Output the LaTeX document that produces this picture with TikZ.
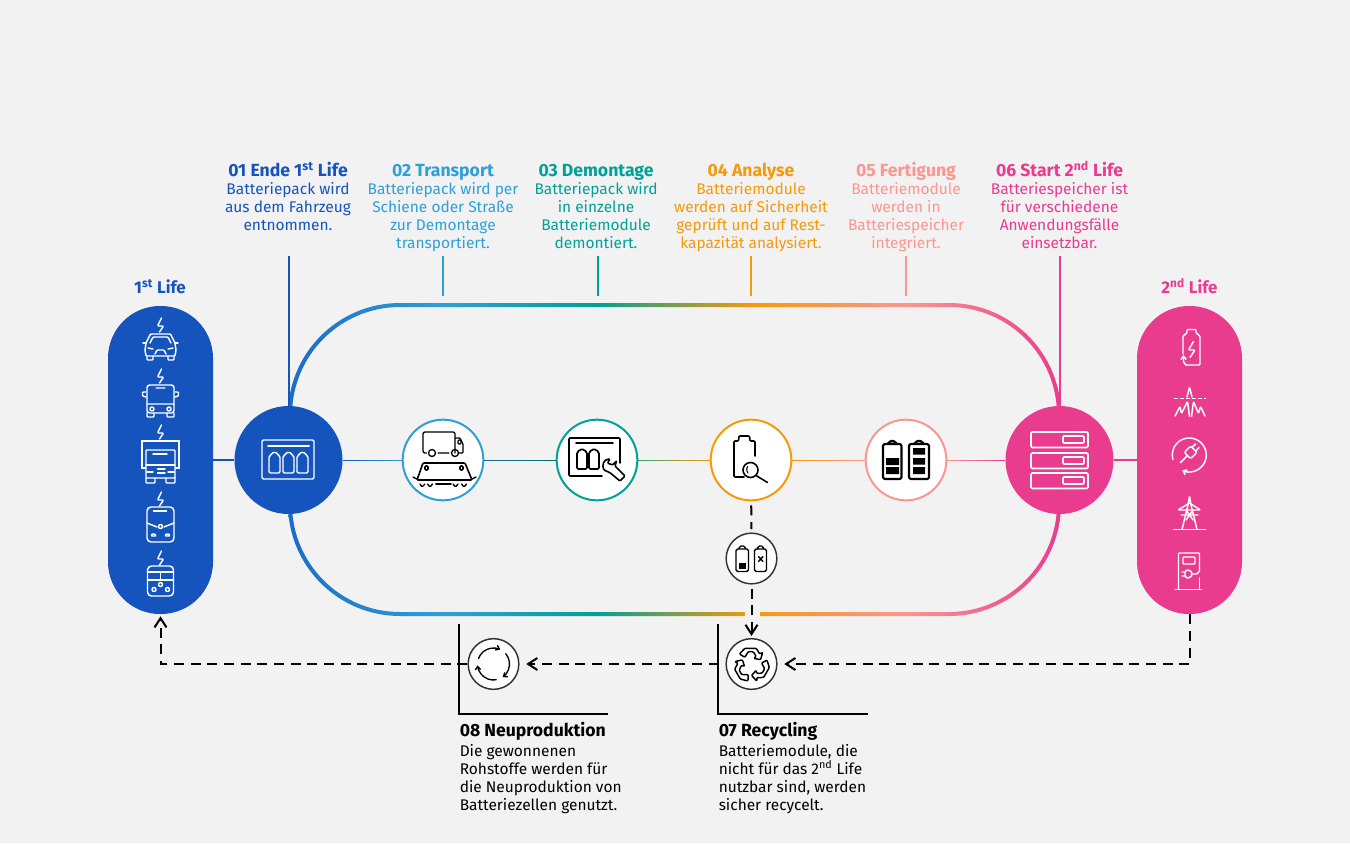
\documentclass[tikz,border=0pt]{standalone}
\usepackage{fontspec}
\setmainfont{Fira Sans}
\usetikzlibrary{arrows.meta,calc}

\definecolor{pagebg}{HTML}{F2F2F2}
\definecolor{lifeblue}{HTML}{1554BD}
\definecolor{skyblue}{HTML}{2F9FD8}
\definecolor{tealgreen}{HTML}{00A196}
\definecolor{amber}{HTML}{F59A0A}
\definecolor{salmon}{HTML}{FB9690}
\definecolor{lifepink}{HTML}{E93C8F}
\definecolor{loopblue}{HTML}{1A6CC8}

% colour run of the big loop
\pgfdeclarehorizontalshading{loopgrad}{100bp}{
  color(0bp)=(loopblue); color(25bp)=(loopblue); color(35bp)=(skyblue);
  color(45bp)=(tealgreen); color(55bp)=(amber); color(65bp)=(salmon);
  color(75bp)=(lifepink); color(100bp)=(lifepink)}

\tikzset{
  pillbox/.style={rectangle,rounded corners=39pt,minimum width=78.75pt,minimum height=231pt,inner sep=0pt},
  hubdot/.style={circle,minimum size=81pt,inner sep=0pt},
  stepdot/.style={circle,draw=#1,fill=white,line width=1.5pt,minimum size=60.5pt,inner sep=0pt},
  exitdot/.style={circle,draw=black!80,fill=white,line width=1.1pt,minimum size=38pt,inner sep=0pt},
  toplabel/.style={anchor=north,align=center,inner sep=0pt,text=#1,font=\fontsize{11.6}{13.5}\selectfont},
  lowlabel/.style={anchor=north west,align=left,inner sep=0pt,font=\fontsize{11.6}{13.5}\selectfont},
  lifelabel/.style={inner sep=0pt,text=#1,font=\fontsize{12.7}{13.5}\selectfont\bfseries},
  dashlink/.style={line width=1.5pt,dash pattern=on 7.5pt off 5pt},
  tiplink/.style={dashlink,-{Straight Barb[length=7pt,width=9pt]}},
  iconw/.style={draw=white,line width=1.1pt,rounded corners=.7pt,line cap=round,line join=round},
  iconk/.style={draw=black,line width=1pt,rounded corners=.7pt,line cap=round,line join=round},
}

% heading line of a label
\newcommand{\steptitle}[1]{\rule{0pt}{12.5pt}{\fontsize{13.2}{13.5}\selectfont\bfseries #1}}

% thin connector whose colour runs from one step to the next
\newcommand{\gradlink}[4]{
  \foreach \i [evaluate=\i as \k using \i/10,evaluate=\i as \j using (\i+1)/10,evaluate=\i as \pct using int(10*\i+5)] in {0,...,9}
    \draw[line width=.75pt,#4!\pct!#3] ($(#1.east)!\k!(#2.west)$) -- ($(#1.east)!\j!(#2.west)$);
}

\begin{document}
\begin{tikzpicture}[x=.75pt,y=-.75pt]
  \fill[pagebg] (0,0) rectangle (1350,843);

  % Loop
  \shade[shading=loopgrad,even odd rule]
    [rounded corners=84pt] (288,303) rectangle (1061,616)
    [rounded corners=81pt] (292,307) rectangle (1057,612);
  \fill[pagebg] (745,610) rectangle (760,618);

  % Pills
  \node[pillbox,fill=lifeblue] (lifeA) at (160.5,460) {};
  \node[pillbox,fill=lifepink] (lifeB) at (1189.5,460) {};
  \node[lifelabel=lifeblue] (lifeAtxt) at (160,286.5) {1\textsuperscript{st} Life};
  \node[lifelabel=lifepink] (lifeBtxt) at (1189.5,286.5) {2\textsuperscript{nd} Life};

  % Step circles
  \node[hubdot,fill=lifeblue] (hubA) at (288.5,460) {};
  \node[stepdot=skyblue] (stepB) at (443,460) {};
  \node[stepdot=tealgreen] (stepC) at (597,460) {};
  \node[stepdot=amber] (stepD) at (751,460) {};
  \node[stepdot=salmon] (stepE) at (906,460) {};
  \node[hubdot,fill=lifepink] (hubF) at (1059.5,460) {};
  \node[exitdot] (cutoff) at (751.5,558.5) {};
  \node[exitdot] (recycle) at (751.5,664) {};
  \node[exitdot] (newmade) at (493.5,664) {};

  % Links
  \draw[line width=1.5pt,lifeblue] (lifeA) -- (hubA);
  \draw[line width=1.5pt,lifepink] (hubF) -- (lifeB);
  \gradlink{hubA}{stepB}{lifeblue}{skyblue}
  \gradlink{stepB}{stepC}{skyblue!70!black}{tealgreen}
  \gradlink{stepC}{stepD}{tealgreen!80!amber}{amber}
  \gradlink{stepD}{stepE}{amber}{salmon}
  \gradlink{stepE}{hubF}{salmon}{lifepink}

  % Ticks
  \coordinate (tickA) at (288.5,256);
  \coordinate (tickB) at (443,256);
  \coordinate (tickBb) at (443,296);
  \coordinate (tickC) at (597.5,256);
  \coordinate (tickCb) at (597.5,296);
  \coordinate (tickD) at (751,256);
  \coordinate (tickDb) at (751,296);
  \coordinate (tickE) at (906,256);
  \coordinate (tickEb) at (906,296);
  \coordinate (tickF) at (1059.5,256);
  \draw[line width=1.5pt,lifeblue] (tickA) -- (hubA);
  \draw[line width=1.5pt,skyblue] (tickB) -- (tickBb);
  \draw[line width=1.5pt,tealgreen] (tickC) -- (tickCb);
  \draw[line width=1.5pt,amber] (tickD) -- (tickDb);
  \draw[line width=1.5pt,salmon] (tickE) -- (tickEb);
  \draw[line width=1.5pt,lifepink] (tickF) -- (hubF);

  % Top labels
  \node[toplabel=lifeblue] (txtA) at (288,159.5) {\steptitle{01 Ende 1\textsuperscript{st} Life}\\Batteriepack wird\\aus dem Fahrzeug\\entnommen.};
  \node[toplabel=skyblue] (txtB) at (443,159.5) {\steptitle{02 Transport}\\Batteriepack wird per\\Schiene oder Straße\\zur Demontage\\transportiert.};
  \node[toplabel=tealgreen] (txtC) at (596,159.5) {\steptitle{03 Demontage}\\Batteriepack wird\\in einzelne\\Batteriemodule\\demontiert.};
  \node[toplabel=amber] (txtD) at (751,159.5) {\steptitle{04 Analyse}\\Batteriemodule\\werden auf Sicherheit\\geprüft und auf Rest-\\kapazität analysiert.};
  \node[toplabel=salmon] (txtE) at (906,159.5) {\steptitle{05 Fertigung}\\Batteriemodule\\werden in\\Batteriespeicher\\integriert.};
  \node[toplabel=lifepink] (txtF) at (1059.5,159.5) {\steptitle{06 Start 2\textsuperscript{nd} Life}\\Batteriespeicher ist\\für verschiedene\\Anwendungsfälle\\einsetzbar.};

  % Low labels
  \coordinate (cornerG) at (459,713.5);
  \coordinate (cornerGa) at (459,624);
  \coordinate (cornerGb) at (608,713.5);
  \coordinate (cornerH) at (718,713.5);
  \coordinate (cornerHa) at (718,624);
  \coordinate (cornerHb) at (868,713.5);
  \draw[line width=1.5pt] (cornerGa) -- (cornerG) -- (cornerGb);
  \draw[line width=1.5pt] (cornerHa) -- (cornerH) -- (cornerHb);
  \node[lowlabel] (txtG) at (459.5,719.5) {\steptitle{08 Neuproduktion}\\[1.5pt]Die gewonnenen\\Rohstoffe werden für\\die Neuproduktion von\\Batteriezellen genutzt.};
  \node[lowlabel] (txtH) at (718.5,719.5) {\steptitle{07 Recycling}\\[1.5pt]Batteriemodule, die\\nicht für das 2\textsuperscript{nd} Life\\nutzbar sind, werden\\sicher recycelt.};

  % Dashed return path
  \draw[dashlink,shorten <=3pt,shorten >=2.5pt] (stepD) -- (cutoff);
  \draw[tiplink,shorten <=3pt,shorten >=1.5pt] (cutoff) -- (recycle);
  \draw[tiplink,shorten >=5pt] (lifeB.south) |- (recycle.east);
  \draw[tiplink,shorten <=5pt,shorten >=5pt] (recycle.west) -- (newmade.east);
  \draw[tiplink,shorten >=1.5pt] (newmade.west) -| (lifeA.south);

  % 1st life icons
  \foreach \y in {325,376,432,499,558}
    \draw[iconw] (161.5,\y-7) -- (157.5,\y+1) -- (163.5,\y+1) -- (159.5,\y+7);
  % car
  \draw[iconw] (146,343) -- (150.5,334) -- (170.5,334) -- (175,343) -- (176,350) -- (175,356) -- (146,356) -- (145,350) -- cycle;
  \draw[iconw] (150,343) -- (153,337) -- (168,337) -- (171,343);
  \draw[iconw] (146,343) -- (143,343) (175,343) -- (178,343);
  \draw[iconw] (147,356) -- (147,360) -- (153,360) -- (153,356) (168,356) -- (168,360) -- (174,360) -- (174,356);
  \draw[iconw] (148,348) -- (153,349) (173,348) -- (168,349) (155,354) -- (157,350) -- (164,350) -- (166,354);
  % bus
  \draw[iconw,rounded corners=2pt] (147,385) rectangle (174,413);
  \draw[iconw] (156,388) -- (165,388) (147,404) -- (174,404) (147,413) -- (147,417) -- (154,417) -- (154,413) (167,413) -- (167,417) -- (174,417) -- (174,413);
  \draw[iconw] (146,392) -- (142.5,392) -- (142.5,396) -- (146,397) (175,392) -- (178.5,392) -- (178.5,396) -- (175,397);
  \draw[iconw] (152,409) circle (2) (169,409) circle (2);
  % truck
  \draw[line width=1pt,white] (142,441) rectangle (179,468);
  \draw[iconw,fill=lifeblue] (146,450) -- (175,450) -- (175,478) -- (146,478) -- cycle;
  \draw[iconw] (153,454) -- (167,454) (146,465) -- (175,465) (147,472) -- (153,472) (168,472) -- (174,472) (157.5,469) -- (165,469) (157.5,473) -- (165,473);
  \draw[iconw] (146,478) -- (146,483) -- (155,483) -- (155,478) (166,478) -- (166,483) -- (175,483) -- (175,478);
  % train
  \draw[iconw,rounded corners=3pt] (147,507) rectangle (174,542);
  \draw[white,line width=1.5pt] (153,510.5) -- (167,510.5);
  \draw[iconw] (147,523) -- (157,527) (174,523) -- (164,527);
  \draw[iconw] (160.5,526.5) circle (2);
  \draw[iconw] (151,536) -- (152,534) -- (155,534) -- (156,536) -- cycle (165,536) -- (166,534) -- (169,534) -- (170,536) -- cycle;
  % tram
  \draw[iconw,rounded corners=3pt] (147.5,566) rectangle (173.5,596);
  \draw[iconw] (147.5,572) -- (173.5,572) (147.5,580) -- (173.5,580) (160.5,572) -- (160.5,580);
  \draw[iconw] (154,589.5) circle (2) (167.5,589.5) circle (2) (160.5,584.5) circle (2);

  % Battery pack
  \draw[iconw,line width=1.1pt,rounded corners=1pt] (262,440) rectangle (314,479);
  \draw[iconw,line width=1.5pt] (268,446) -- (309,446);
  \foreach \x in {269,283,297}
    \draw[iconw,line width=1.1pt,rounded corners=1pt] (\x,473) -- (\x,456) -- (\x+2.5,455) -- (\x+3,452.5) -- (\x+8,452.5) -- (\x+8.5,455) -- (\x+11,456) -- (\x+11,473) -- cycle;

  % Truck and train
  \draw[iconk,rounded corners=1.5pt] (426.5,453) -- (423,453) -- (423,432) -- (455,432) -- (455,453);
  \draw[iconk] (455,438) -- (460,438) -- (463,444) -- (463,453) -- (459,453);
  \draw[iconk] (458,440) rectangle (461,444);
  \draw[iconk] (432,453) circle (3.5) (455,453) circle (3.5) (438,453) -- (449,453);
  \draw[iconk,line width=1.2pt] (417,480) -- (423,463) -- (465,463) -- (472,480) -- cycle;
  \draw[iconk,line width=1.2pt] (425,466) rectangle (428,470) (460,466) rectangle (463,470);
  \draw[iconk] (413,477) -- (417,479) (476,477) -- (472,479);
  \draw[iconk] (420,484) -- (422,487) -- (425,484) (427.5,484) -- (430,487) -- (432.5,484) (453,484) -- (455.5,487) -- (458,484) (461.5,484) -- (464,487) -- (466.5,484);
  \draw[iconk,line width=1.3pt] (436,484) -- (451,484);

  % Modules and wrench
  \draw[iconk,line width=1.2pt] (620,463) -- (620,438) -- (569,438) -- (569,476) -- (602,476);
  \draw[iconk,line width=1.2pt] (576,443) -- (613,443);
  \foreach \x in {577,589}
    \draw[iconk,line width=1.2pt,rounded corners=1pt] (\x,469) -- (\x,452) -- (\x+2,451.5) -- (\x+2.5,449.5) -- (\x+7.5,449.5) -- (\x+8,451.5) -- (\x+10,452) -- (\x+10,469) -- cycle;
  \draw[iconk,fill=white,line width=1.2pt] (610,459) .. controls (603,459) and (602,466) .. (604,470) -- (610,472.7) -- (620,481) -- (625,476) -- (615,466) -- (616.7,460.7) -- (612.5,465) -- (607.5,463) -- cycle;

  % Battery with lens
  \draw[iconk,line width=1.2pt] (755,456) -- (755,441) -- (750,441) -- (749.5,436) -- (739,436) -- (738.5,441) -- (734,441) -- (734,477) -- (744,477);
  \draw[iconk,line width=1.2pt] (750.5,470) circle (7.5);
  \draw[iconk,line width=1.2pt] (756,475.5) -- (767.5,482.5);
  \draw[iconk,line width=.8pt] (747.5,466.5) -- (746.5,470) -- (748,473);

  % Two batteries
  \draw[iconk,line width=1.6pt,rounded corners=1.5pt] (883,479) rectangle (901.5,444) (888,444) -- (889,441) -- (895.5,441) -- (896.5,444);
  \fill (886,458) rectangle (899,465) (886,467) rectangle (899,474);
  \draw[iconk,line width=1.6pt,rounded corners=1.5pt] (909,479) rectangle (929,444) (914.5,444) -- (915.5,441) -- (922.5,441) -- (923.5,444);
  \fill (913,448) rectangle (925,454.5) (913,458) rectangle (925,464.5) (913,467) rectangle (925,474);

  % Storage rack
  \foreach \y in {432,453,473}{
    \draw[iconw,line width=1.2pt,rounded corners=1pt] (1031,\y) rectangle (1088,\y+15.5);
    \draw[iconw,line width=1.2pt] (1063,\y+4) rectangle (1084,\y+11);
  }

  % 2nd life icons
  % battery
  \draw[iconw] (1183,354) -- (1183,336) -- (1187,333) -- (1187,329.5) -- (1196,329.5) -- (1196,333) -- (1200,336) -- (1200,365) -- (1186,365);
  \draw[iconw] (1193.5,341.5) -- (1188.5,350) -- (1195,350) -- (1190,357.5);
  \draw[iconw,-{Straight Barb[length=2.5pt,width=4pt]}] (1186,365) -- (1183.5,362) -- (1183.5,355);
  % grid peak
  \draw[white,line width=1pt,dash pattern=on 3pt off 1.5pt] (1173.5,398.5) -- (1206,398.5);
  \draw[iconw] (1187,397) -- (1189.5,387) -- (1192,397);
  \draw[iconw] (1175,416) -- (1180,406.5) -- (1181.5,413.5) -- (1187.5,401.5) -- (1189.5,416.5);
  \draw[iconw] (1191.5,416.5) -- (1193.5,401.5) -- (1198.5,413.5) -- (1200.5,406.5) -- (1205,416);
  % plug in circle
  \draw[iconw,-{Straight Barb[length=2.5pt,width=4pt]}] (1189.3,455) ++(165:17) arc[start angle=165,end angle=475,radius=17];
  \begin{scope}[shift={(1191,452)},rotate=45]
    \draw[iconw,rounded corners=1.5pt] (-5,-4.5) rectangle (4,4.5);
    \draw[iconw] (4,-2.5) -- (9,-2.5) (4,2.5) -- (9,2.5) (-5,0) -- (-15,0);
  \end{scope}
  % pylon
  \draw[iconw] (1173.5,529.5) -- (1205.5,529.5);
  \draw[iconw] (1182,529.5) -- (1188,505) -- (1189.5,496) -- (1191,505) -- (1197,529.5);
  \draw[iconw] (1178,510) -- (1189.5,503) -- (1200.5,510) -- cycle;
  \draw[iconw] (1181,515) -- (1198,515) (1186,510) -- (1193,520) (1193,510) -- (1186,520);
  % charger
  \draw[iconw] (1175,589.5) -- (1201.5,589.5);
  \draw[iconw] (1178.5,589.5) -- (1178.5,553) -- (1199.5,553) -- (1199.5,571);
  \draw[iconw] (1199.5,578) -- (1199.5,589.5);
  \draw[iconw] (1183,557) rectangle (1195,564);
  \draw[iconw,rounded corners=2pt] (1185,570) -- (1190,570) -- (1193,574) -- (1190,578) -- (1185,578) -- cycle;
  \draw[iconw] (1193,574) -- (1197,574) -- (1199.5,571) (1182,572) -- (1185,572) (1182,576) -- (1185,576);

  % Spent batteries
  \draw[iconk,rounded corners=1.2pt] (736,571.5) rectangle (748.5,549) (739,549) -- (739.5,546) -- (745,546) -- (745.5,549);
  \fill (738.5,563) rectangle (746,569);
  \draw[iconk,rounded corners=1.2pt] (754.5,571.5) rectangle (766.5,549) (757.5,549) -- (758,546) -- (763,546) -- (763.5,549);
  \draw[iconk] (758.5,556.5) -- (763,561.5) (763,556.5) -- (758.5,561.5);

  % Recycling mark
  \foreach \a in {0,120,240}{
    \begin{scope}[shift={(751.5,665)},rotate=\a]
      \draw[iconk,line width=1.1pt] (-6.7,-16.7) -- (4.7,-16.7) -- (8.3,-11) -- (11.3,-12.7) -- (9,-5.3) -- (2.3,-6.7) -- (4.7,-8.7) -- (1.7,-13.3) -- (-3.3,-13.3) -- (-6.7,-7.7) -- (-12,-11) -- cycle;
    \end{scope}
  }

  % New cell cycle
  \foreach \a in {200,320,80}
    \draw[iconk,-{Straight Barb[length=2.5pt,width=4pt]}] (493.5,664) ++(\a:16) arc[start angle=\a,end angle=\a+95,radius=16];
\end{tikzpicture}
\end{document}
